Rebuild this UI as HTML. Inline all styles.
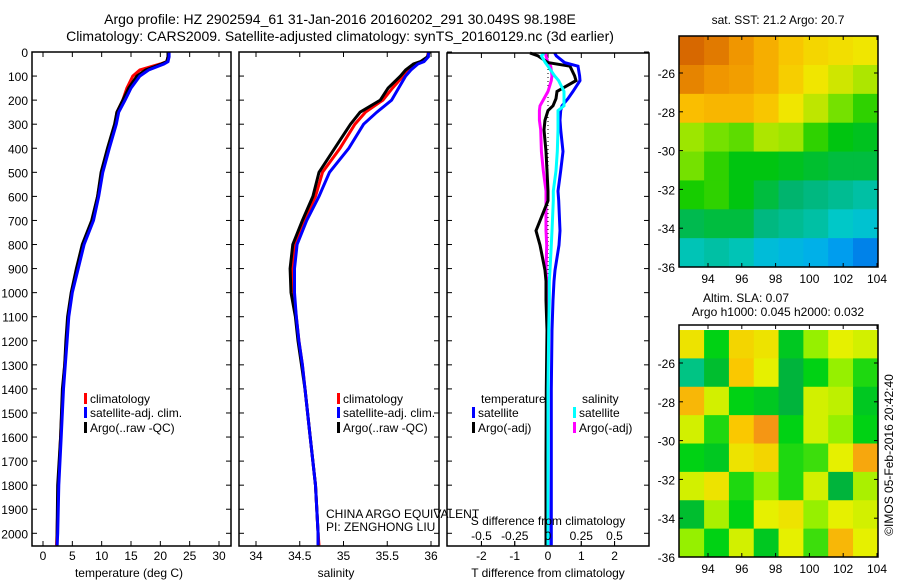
<!DOCTYPE html>
<html><head><meta charset="utf-8">
<style>
html,body{margin:0;padding:0;background:#fff;}
svg{display:block;font-family:"Liberation Sans",sans-serif;}
text{fill:#000;}
</style></head>
<body>
<svg id="fig" width="900" height="580" viewBox="0 0 900 580">
<text x="340" y="24" font-size="14" text-anchor="middle">Argo profile: HZ 2902594_61 31-Jan-2016 20160202_291 30.049S 98.198E</text>
<text x="340" y="41" font-size="14" text-anchor="middle">Climatology: CARS2009. Satellite-adjusted climatology: synTS_20160129.nc (3d earlier)</text>
<g id="p1"></g>
<g id="p2"></g>
<g id="p3"></g>
<g id="m1"></g>
<g id="m2"></g>
<text x="778" y="24" font-size="12" text-anchor="middle">sat. SST: 21.2 Argo: 20.7</text>
<text x="746" y="302" font-size="12" text-anchor="middle">Altim. SLA: 0.07</text>
<text x="778" y="316" font-size="12" text-anchor="middle">Argo h1000: 0.045 h2000: 0.032</text>
<text transform="translate(893,455) rotate(-90)" font-size="12" text-anchor="middle">©IMOS 05-Feb-2016 20:42:40</text>
<text x="326" y="518" font-size="12">CHINA ARGO EQUIVALENT</text>
<text x="326" y="531" font-size="12">PI: ZENGHONG LIU</text>
</svg>
<script>
// ---------- data ----------
const depths = [0,20,40,50,75,100,150,200,250,300,400,500,600,700,800,900,1000,1100,1200,1300,1400,1600,1800,2000,2050];
const tempClim = [21.3,21.3,21.1,20.0,16.5,15.3,14.3,13.6,12.6,12.3,11.1,10.0,9.3,8.4,6.8,5.8,4.9,4.3,4.0,3.7,3.4,3.0,2.6,2.4,2.3];
const tempSat  = [21.5,21.5,21.3,20.6,18.0,16.5,15.0,14.0,12.9,12.5,11.3,10.2,9.5,8.6,7.0,6.0,5.0,4.4,4.1,3.8,3.5,3.1,2.7,2.5,2.4];
const tempArgo = [21.3,21.3,21.1,20.2,17.5,16.0,14.6,13.6,12.6,12.2,11.0,9.9,9.3,8.3,6.7,5.7,4.8,4.2,3.9,3.7,3.3,3.0,2.5,2.4,2.4];
const salClim = [35.97,35.96,35.9,35.82,35.74,35.68,35.56,35.45,35.25,35.13,34.96,34.76,34.68,34.55,34.44,34.42,34.43,34.46,34.49,34.53,34.56,34.62,34.68,34.71,34.72];
const salSat  = [35.97,35.97,35.92,35.85,35.77,35.71,35.63,35.55,35.38,35.23,35.06,34.84,34.72,34.58,34.47,34.44,34.44,34.46,34.49,34.53,34.56,34.62,34.68,34.71,34.71];
const salArgo = [35.98,35.96,35.88,35.8,35.71,35.65,35.51,35.42,35.19,35.08,34.9,34.72,34.65,34.53,34.42,34.39,34.4,34.45,34.48,34.52,34.56,34.62,34.68,34.71,34.71];
const diffDepths = [0,12,40,55,95,115,160,190,220,240,280,320,410,490,575,615,740,800,905,950,1030,1155,1400,1700,2000,2050];
const dTSat  = [0.2,0.25,0.5,0.9,0.95,0.96,0.75,0.6,0.42,0.38,0.36,0.38,0.45,0.38,0.3,0.32,0.36,0.33,0.21,0.18,0.15,0.12,0.1,0.1,0.1,0.1];
const dTArgo = [-0.54,-0.3,0.0,0.66,0.8,0.84,0.27,0.24,0.15,0.0,-0.09,-0.12,-0.06,-0.03,0.0,0.0,-0.36,-0.24,-0.09,-0.06,-0.06,-0.03,-0.05,-0.06,-0.06,-0.06];
const dSSat  = [-0.03,-0.05,-0.02,0.0,0.05,0.08,0.12,0.12,0.12,0.075,0.075,0.075,0.07,0.06,0.04,0.04,0.03,0.025,0.015,0.01,0.01,0.005,0.0,0.0,0.0,0.0];
const dSArgo = [-0.02,-0.015,0.0,0.02,0.03,0.025,0.0,-0.03,-0.06,-0.065,-0.065,-0.055,-0.05,-0.035,-0.015,-0.015,-0.015,-0.01,-0.015,-0.01,-0.005,0.0,0.0,0.0,0.005,0.005];
const depthTicks = [0,100,200,300,400,500,600,700,800,900,1000,1100,1200,1300,1400,1500,1600,1700,1800,1900,2000];
const tempTicks = [0,5,10,15,20,25,30];
const salTicks = [34,34.5,35,35.5,36];
const dTTicks = [-2,-1,0,1,2];
const dSTicks = [-0.5,-0.25,0,0.25,0.5];
const lonTicks = [94,96,98,100,102,104];
const latTicks = [-26,-28,-30,-32,-34,-36];
// SST grid (rows north->south, cols west->east), deg C
const sstGrid = [
[22.8,22.6,22.3,22.0,21.7,21.5,21.4,21.3],
[22.5,22.3,22.2,22.0,21.6,21.3,21.1,20.9],
[21.8,21.9,21.9,21.7,21.3,21.0,20.6,20.3],
[20.8,20.6,20.5,20.9,20.8,20.3,20.0,19.9],
[20.6,20.3,20.0,20.0,19.9,19.8,19.7,19.7],
[20.2,20.3,20.0,19.7,19.4,19.3,19.2,19.1],
[19.6,19.7,19.7,19.3,19.2,19.1,18.9,18.8],
[19.0,19.1,19.0,18.7,18.6,18.5,18.3,18.1]];
// SLA grid, m
const slaGrid = [
[0.05,-0.05,0.06,0.05,-0.06,0.0,0.04,0.03],
[-0.12,-0.07,0.07,0.04,-0.08,-0.05,0.0,-0.04],
[0.08,0.03,-0.05,-0.06,-0.08,0.03,0.02,-0.06],
[0.03,-0.04,0.07,0.1,-0.05,0.03,0.0,-0.05],
[-0.05,-0.06,0.05,0.06,-0.04,-0.03,0.04,0.09],
[0.03,0.05,-0.04,0.0,-0.04,0.03,-0.08,0.01],
[-0.07,0.01,-0.05,0.04,0.05,0.0,0.04,0.03],
[0.0,-0.05,0.03,-0.06,0.04,-0.03,0.08,0.04]];

// ---------- helpers ----------
const NS="http://www.w3.org/2000/svg";
function mk(tag,attrs,parent){const e=document.createElementNS(NS,tag);for(const k in attrs)e.setAttribute(k,attrs[k]);parent.appendChild(e);return e;}
function lin(d0,d1,r0,r1){return v=>r0+(v-d0)*(r1-r0)/(d1-d0);}
const yD = lin(0,2000,52,533.3); // depth axis
const yDd = lin(0,2000,53,533.3);

function frame(g,x0,x1,y0,y1,name){
  const r=mk('rect',{x:x0,y:y0,width:x1-x0,height:y1-y0,fill:'none',stroke:'#000','stroke-width':1.5},g);
  
  
}
function line(g,xs,ys,xf,yf,color,w,name){
  const pts=xs.map((v,i)=>xf(v).toFixed(1)+','+yf(ys[i]).toFixed(1)).join(' ');
  const p=mk('polyline',{points:pts,fill:'none',stroke:color,'stroke-width':w,'stroke-linejoin':'miter'},g);
  
  
}
function xTicks(g,ticks,xf,y0,y1,labelY,name,top){
  ticks.forEach(t=>{
    const x=xf(t);
    mk('line',{x1:x,x2:x,y1:y1,y2:y1-5,stroke:'#000'},g);
    if(top) mk('line',{x1:x,x2:x,y1:y0,y2:y0+5,stroke:'#000'},g);
    if(labelY!==null){
      const tx=mk('text',{x:x,y:labelY,'font-size':12,'text-anchor':'middle'},g);
      tx.textContent=String(t);
      
      
    }
  });
}
function legend(g,x,y,color,label){
  const r=mk('rect',{x:x,y:y-10,width:3,height:11,fill:color},g);
  
  
  const t=mk('text',{x:x+6,y:y,'font-size':12},g);
  t.textContent=label;
  
  
}
function label(g,x,y,txt,name,anchor){
  const t=mk('text',{x:x,y:y,'font-size':12,'text-anchor':anchor||'middle'},g);
  t.textContent=txt;
  
  
}

// ---------- panel 1: temperature ----------
const g1=document.getElementById('p1');
const xT=lin(0,30,43,219);
depthTicks.forEach(d=>{
  const y=yD(d);
  mk('line',{x1:32,x2:37,y1:y,y2:y,stroke:'#000'},g1);
  mk('line',{x1:231,x2:226,y1:y,y2:y,stroke:'#000'},g1);
  label(g1,28,y+5,String(d),'depth-tick-label','end');
});
xTicks(g1,tempTicks,xT,52,546,560,'temperature-tick-label',true);
line(g1,tempClim,depths,xT,yD,'#ff0000',3,'temperature-climatology-line');
line(g1,tempArgo,depths,xT,yD,'#000000',3,'temperature-argo-line');
line(g1,tempSat,depths,xT,yD,'#0000ff',3,'temperature-satellite-line');
frame(g1,32,231,52,546,'temperature-plot-frame');
label(g1,129,577,'temperature (deg C)','temperature-axis-title');
legend(g1,84,403,'#ff0000','climatology');
legend(g1,84,417,'#0000ff','satellite-adj. clim.');
legend(g1,84,432,'#000000','Argo(..raw -QC)');

// ---------- panel 2: salinity ----------
const g2=document.getElementById('p2');
const xS=lin(34,36,256,431);
depthTicks.forEach(d=>{
  const y=yD(d);
  mk('line',{x1:239,x2:244,y1:y,y2:y,stroke:'#000'},g2);
  mk('line',{x1:439,x2:434,y1:y,y2:y,stroke:'#000'},g2);
});
xTicks(g2,salTicks,xS,52,546,560,'salinity-tick-label',true);
line(g2,salClim,depths,xS,yD,'#ff0000',3,'salinity-climatology-line');
line(g2,salArgo,depths,xS,yD,'#000000',3,'salinity-argo-line');
line(g2,salSat,depths,xS,yD,'#0000ff',3,'salinity-satellite-line');
frame(g2,239,439,52,546,'salinity-plot-frame');
label(g2,336,577,'salinity','salinity-axis-title');
legend(g2,337,403,'#ff0000','climatology');
legend(g2,337,417,'#0000ff','satellite-adj. clim.');
legend(g2,337,432,'#000000','Argo(..raw -QC)');

// ---------- panel 3: differences ----------
const g3=document.getElementById('p3');
const xdT=lin(0,1,548,581.3);
const xdS=lin(0,1,548,681);
depthTicks.forEach(d=>{
  const y=yD(d);
  mk('line',{x1:447,x2:452,y1:y,y2:y,stroke:'#000'},g3);
  mk('line',{x1:649,x2:644,y1:y,y2:y,stroke:'#000'},g3);
});
xTicks(g3,dTTicks,xdT,53,546,560,'t-diff-tick-label',true);
xTicks(g3,dSTicks,xdS,53,546,null,'s-diff-tick',false);
mk('line',{x1:548,x2:548,y1:53,y2:546,stroke:'#000','stroke-dasharray':'1,3'},g3);
line(g3,dSArgo,diffDepths,xdS,yDd,'#ff00ff',3,'s-diff-argo-line');
line(g3,dTArgo,diffDepths,xdT,yDd,'#000000',3,'t-diff-argo-line');
line(g3,dTSat,diffDepths,xdT,yDd,'#0000ff',3,'t-diff-satellite-line');
line(g3,dSSat,diffDepths,xdS,yDd,'#00ffff',3,'s-diff-satellite-line');
frame(g3,447,649,53,546,'difference-plot-frame');
dSTicks.forEach(t=>label(g3,xdS(t),540,String(t),'s-diff-tick-label'));
label(g3,548,525,'S difference from climatology','s-diff-axis-title');
label(g3,548,577,'T difference from climatology','t-diff-axis-title');
label(g3,481,403,'temperature','legend-temperature-header','start');
label(g3,582,403,'salinity','legend-salinity-header','start');
legend(g3,472,417,'#0000ff','satellite');
legend(g3,472,432,'#000000','Argo(-adj)');
legend(g3,573,417,'#00ffff','satellite');
legend(g3,573,432,'#ff00ff','Argo(-adj)');

// ---------- maps ----------
const sstStops=[[17.3,[0,0,140]],[17.8,[0,90,225]],[18.4,[0,170,240]],[18.9,[0,200,200]],[19.4,[0,180,110]],[20.1,[0,200,0]],[20.7,[140,230,0]],[21.3,[240,230,0]],[21.8,[250,190,0]],[22.3,[240,150,0]],[22.9,[210,95,0]]];
const slaStops=[[-0.13,[0,200,150]],[-0.08,[0,180,60]],[-0.05,[0,210,20]],[0.0,[150,240,0]],[0.04,[230,240,0]],[0.07,[250,200,0]],[0.1,[245,150,20]]];
function cmap(stops,v){
  if(v<=stops[0][0])return 'rgb('+stops[0][1]+')';
  for(let i=1;i<stops.length;i++){
    if(v<=stops[i][0]){const a=stops[i-1],b=stops[i],f=(v-a[0])/(b[0]-a[0]);
      return 'rgb('+a[1].map((c,k)=>Math.round(c+(b[1][k]-c)*f)).join(',')+')';}
  }
  return 'rgb('+stops[stops.length-1][1]+')';
}
function drawMap(g,grid,stops,x0,x1,y0,y1,latTop,cellName){
  const lonX=lin(94,104,708,877);
  const latY=lin(-26,-36,y1-194,y1);
  const lonW=92.3, lonE=104.05;
  const rows=grid.length, cols=grid[0].length;
  const dLon=(lonE-lonW)/cols, dLat=(-36-latTop)/rows;
  grid.forEach((row,i)=>row.forEach((v,j)=>{
    const xa=lonX(lonW+j*dLon), xb=lonX(lonW+(j+1)*dLon);
    const ya=latY(latTop+i*dLat), yb=latY(latTop+(i+1)*dLat);
    const r=mk('rect',{x:xa,y:ya,width:xb-xa+0.5,height:yb-ya+0.5,fill:cmap(stops,v)},g);
    
    
  }));
  frame(g,x0,x1,y0,y1,'map-frame');
  lonTicks.forEach(t=>{const x=lonX(t);
    mk('line',{x1:x,x2:x,y1:y1,y2:y1-4,stroke:'#000'},g);
    mk('line',{x1:x,x2:x,y1:y0,y2:y0+4,stroke:'#000'},g);
    label(g,x,y1+16,String(t),'longitude-tick-label');});
  latTicks.forEach(t=>{const y=latY(t);
    mk('line',{x1:x0,x2:x0+4,y1:y,y2:y,stroke:'#000'},g);
    mk('line',{x1:x1,x2:x1-4,y1:y,y2:y,stroke:'#000'},g);
    label(g,x0-4,y+5,String(t),'latitude-tick-label','end');});
}
drawMap(document.getElementById('m1'),sstGrid,sstStops,679,878,36,267,-24.1,'sst-cell');
drawMap(document.getElementById('m2'),slaGrid,slaStops,679,878,325,557,-24.3,'sla-cell');
</script>
</body></html>
